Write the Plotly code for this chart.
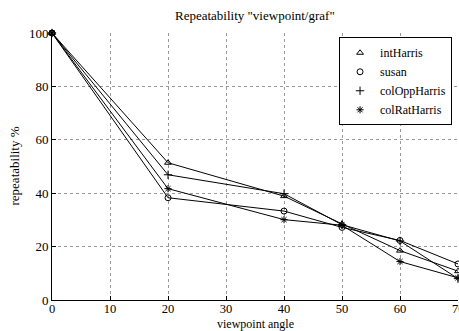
import plotly.graph_objects as go

angles = [0, 20, 40, 50, 60, 70]
int_harris = [100, 51.4, 38.9, 28.5, 18.5, 10.8]
susan = [100, 38.3, 33.3, 27.2, 22.3, 13.5]
col_opp_harris = [100, 46.9, 39.8, 28.2, 22.1, 8.0]
col_rat_harris = [100, 41.7, 30.1, 28.0, 14.4, 8.3]
x_ticks = [0, 10, 20, 30, 40, 50, 60]
y_ticks = [0, 20, 40, 60, 80, 100]

series = [
    ("intHarris", int_harris, "triangle-up-open"),
    ("susan", susan, "circle-open"),
    ("colOppHarris", col_opp_harris, "cross-thin-open"),
    ("colRatHarris", col_rat_harris, "asterisk-open"),
]

FONT = "Liberation Serif, Times New Roman, serif"
fig = go.Figure()
for name, vals, sym in series:
    fig.add_trace(go.Scatter(
        x=angles, y=vals, mode="lines+markers", name=name, showlegend=False,
        line=dict(color="black", width=1),
        marker=dict(symbol=sym, size=6, color="black", line=dict(color="black", width=1)),
        cliponaxis=False,
    ))
for name, vals, sym in series:
    fig.add_trace(go.Scatter(
        x=[None], y=[None], mode="markers", name=name,
        marker=dict(symbol=sym, size=6, color="black", line=dict(color="black", width=1)),
    ))

axis_common = dict(
    showgrid=True, gridcolor="#999999", griddash="dot", gridwidth=1,
    showline=True, linecolor="black", linewidth=1,
    ticks="inside", ticklen=4, tickcolor="black",
    zeroline=False, mirror=False,
)
fig.update_xaxes(range=[0, 70], tickvals=x_ticks + [70], ticktext=[str(v) for v in x_ticks] + [""],
                 ticklabelstandoff=-3, tickfont=dict(family=FONT, size=12.5, color="black"),
                 **axis_common)
fig.update_yaxes(range=[0, 100], tickvals=y_ticks,
                 tickfont=dict(family=FONT, size=13, color="black"), **axis_common)

fig.update_layout(
    width=459, height=331,
    margin=dict(l=52, r=1, t=33, b=31),
    paper_bgcolor="white", plot_bgcolor="white",
    font=dict(family=FONT, size=12, color="black"),
    showlegend=True,
    legend=dict(
        x=0.707, y=0.984, xanchor="left", yanchor="top",
        bordercolor="black", borderwidth=1, bgcolor="white",
        font=dict(family=FONT, size=12, color="black"),
        tracegroupgap=0, itemwidth=30,
    ),
    annotations=[
        dict(text='Repeatability "viewpoint/graf"', xref="paper", yref="paper",
             x=0.5, y=1.0, yshift=18, showarrow=False, xanchor="center", yanchor="middle",
             font=dict(family=FONT, size=13)),
        dict(text="70", xref="x", yref="paper", x=70, y=0, yshift=-9,
             showarrow=False, xanchor="center", yanchor="middle",
             font=dict(family=FONT, size=12.5)),
        dict(text="viewpoint angle", xref="paper", yref="paper",
             x=0.5, y=0, yshift=-24, showarrow=False, xanchor="center", yanchor="middle",
             font=dict(family=FONT, size=12)),
        dict(text="repeatability %", xref="paper", yref="paper", textangle=-90,
             x=0, xshift=-38, y=0.5, showarrow=False, xanchor="center", yanchor="middle",
             font=dict(family=FONT, size=13)),
    ],
)

fig.write_html("out.html")
